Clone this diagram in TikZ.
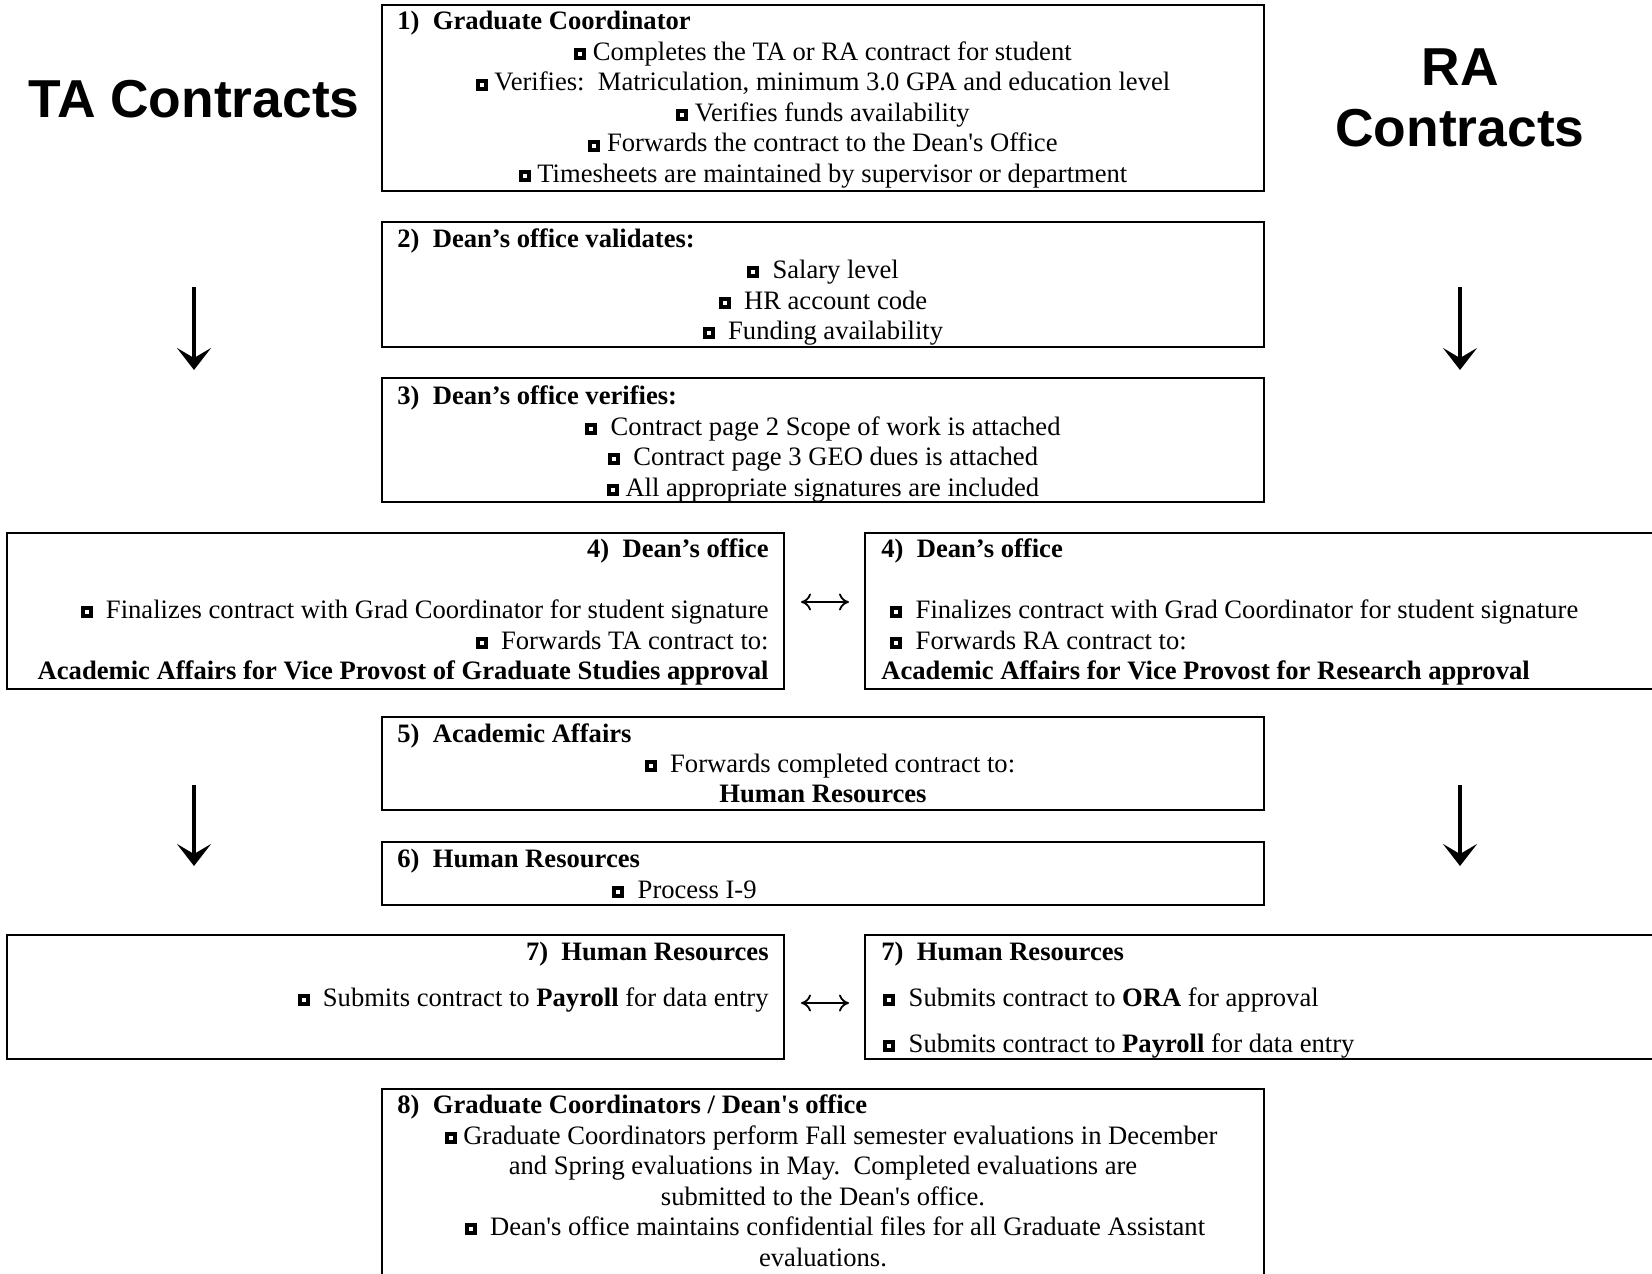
\documentclass[tikz,border=0pt]{standalone}
\usepackage{fontspec}
\setmainfont{Liberation Serif}
\newfontfamily\arialfont{Liberation Sans}
\usepackage{xcolor}
\usetikzlibrary{arrows.meta}
\usetikzlibrary{fit}
\newcommand\bul{\raisebox{.2pt}{\rlap{\rule{6pt}{6pt}}\hspace{2pt}\raisebox{2pt}{\color{white}\rule{2pt}{2pt}}\hspace{2pt}}}
\newcommand\sq{\textquotesingle}
\tikzstyle{box}=[draw,line width=1pt,inner sep=0pt]
\tikzstyle{txt}=[inner sep=0pt,font=\fontsize{13.3}{15.3}\selectfont]
\tikzstyle{hd}=[inner sep=0pt,font=\fontsize{13.3}{15.3}\selectfont\bfseries]
\tikzstyle{big}=[inner sep=0pt,align=center,font=\arialfont\bfseries\fontsize{26.7}{30.5}\selectfont]
\tikzstyle{down}=[line width=2pt,-{Stealth[length=11pt,width=17pt,inset=5pt]}]
\tikzstyle{both}=[line width=.9pt,{To[length=5pt,width=8.5pt]}-{To[length=5pt,width=8.5pt]},shorten <=8pt,shorten >=7.5pt]

\begin{document}
\begin{tikzpicture}[x=0.5pt,y=-0.5pt]
	\useasboundingbox (0,0) rectangle (1652,1273);
	% boxes
	\node[box,fit={(382,5) (1264,191)}]    (s1) {};
	\node[box,fit={(382,222) (1264,347)}]  (s2) {};
	\node[box,fit={(382,378) (1264,502)}]  (s3) {};
	\node[box,fit={(7,533) (784,689)}]     (t4) {};
	\node[box,fit={(865,533) (1700,689)}]  (r4) {};
	\node[box,fit={(382,717) (1264,810)}]  (s5) {};
	\node[box,fit={(382,842) (1264,905)}]  (s6) {};
	\node[box,fit={(7,935) (784,1059)}]    (t7) {};
	\node[box,fit={(865,935) (1700,1059)}] (r7) {};
	\node[box,fit={(382,1089) (1264,1330)}] (s8) {};
	% titles
	\node[big,anchor=base] (ta) at (194,118) {TA Contracts};
	\node[big] (ra) at (1460,98) {RA\\Contracts};
	% 1
	\node[hd,anchor=base west] (h1) at (397,30) {1)\ \ Graduate Coordinator};
	\foreach \t [count=\i] in {Completes the TA or RA contract for student,
	    {Verifies:\ \ Matriculation, minimum 3.0 GPA and education level},
	    Verifies funds availability,
	    Forwards the contract to the Dean\sq s Office,
	    Timesheets are maintained by supervisor or department}
	  \node[txt,anchor=base] (l1-\i) at (823,{30.5*\i+30}) {\bul\ \t};
	% 2
	\node[hd,anchor=base west] (h2) at (397,248) {2)\ \ Dean’s office validates:};
	\foreach \t [count=\i] in {Salary level,HR account code,Funding availability}
	  \node[txt,anchor=base] (l2-\i) at (823,{30.5*\i+248}) {\bul\ \ \t};
	% 3
	\node[hd,anchor=base west] (h3) at (397,404) {3)\ \ Dean’s office verifies:};
	\node[txt,anchor=base] (l3-1) at (823,435) {\bul\ \ Contract page 2 Scope of work is attached};
	\node[txt,anchor=base] (l3-2) at (823,465) {\bul\ \ Contract page 3 GEO dues is attached};
	\node[txt,anchor=base] (l3-3) at (823,496) {\bul\ All appropriate signatures are included};
	% 4
	\node[hd,anchor=base east] (h4t) at (769,557) {4)\ \ Dean’s office};
	\node[txt,anchor=base east] (l4t-1) at (769,618) {\bul\ \ Finalizes contract with Grad Coordinator for student signature};
	\node[txt,anchor=base east] (l4t-2) at (769,649) {\bul\ \ Forwards TA contract to:};
	\node[hd,anchor=base east] (l4t-3) at (769,679) {Academic Affairs for Vice Provost of Graduate Studies approval};
	\node[hd,anchor=base west] (h4r) at (881,557) {4)\ \ Dean’s office};
	\node[txt,anchor=base west] (l4r-1) at (890,618) {\bul\ \ Finalizes contract with Grad Coordinator for student signature};
	\node[txt,anchor=base west] (l4r-2) at (890,649) {\bul\ \ Forwards RA contract to:};
	\node[hd,anchor=base west] (l4r-3) at (881,679) {Academic Affairs for Vice Provost for Research approval};
	% 5
	\node[hd,anchor=base west] (h5) at (397,742) {5)\ \ Academic Affairs};
	\node[txt,anchor=base] (l5-1) at (830,772) {\bul\ \ Forwards completed contract to:};
	\node[hd,anchor=base] (l5-2) at (823,802) {Human Resources};
	% 6
	\node[hd,anchor=base west] (h6) at (397,867) {6)\ \ Human Resources};
	\node[txt,anchor=base west] (l6-1) at (612,898) {\bul\ \ Process I-9};
	% 7
	\node[hd,anchor=base east] (h7t) at (769,960) {7)\ \ Human Resources};
	\node[txt,anchor=base east] (l7t-1) at (769,1006) {\bul\ \ Submits contract to \textbf{Payroll} for data entry};
	\node[hd,anchor=base west] (h7r) at (881,960) {7)\ \ Human Resources};
	\node[txt,anchor=base west] (l7r-1) at (883,1006) {\bul\ \ Submits contract to \textbf{ORA} for approval};
	\node[txt,anchor=base west] (l7r-2) at (883,1052) {\bul\ \ Submits contract to \textbf{Payroll} for data entry};
	% 8
	\node[hd,anchor=base west] (h8) at (397,1113) {8)\ \ Graduate Coordinators / Dean\sq s office};
	\node[txt,anchor=base] (l8-1) at (831,1144) {\bul\ Graduate Coordinators perform Fall semester evaluations in December};
	\node[txt,anchor=base] (l8-2) at (823,1174) {and Spring evaluations in May.\ \ Completed evaluations are};
	\node[txt,anchor=base] (l8-3) at (823,1205) {submitted to the Dean\sq s office.};
	\node[txt,anchor=base] (l8-4) at (835,1235) {\bul\ \ Dean\sq s office maintains confidential files for all Graduate Assistant};
	\node[txt,anchor=base] (l8-5) at (823,1266) {evaluations.};
	% arrows
	\coordinate (a1) at (194,287);  \coordinate (a2) at (194,370);
	\coordinate (a3) at (194,785);  \coordinate (a4) at (194,866);
	\coordinate (b1) at (1460,287); \coordinate (b2) at (1460,370);
	\coordinate (b3) at (1460,785); \coordinate (b4) at (1460,866);
	\draw[down] (a1) -- (a2);
	\draw[down] (a3) -- (a4);
	\draw[down] (b1) -- (b2);
	\draw[down] (b3) -- (b4);
	\draw[both] ([yshift=4.5pt]t4.east) -- ([yshift=4.5pt]t4.east -| r4.west);
	\draw[both] ([yshift=-3pt]t7.east) -- ([yshift=-3pt]t7.east -| r7.west);
\end{tikzpicture}
\end{document}
